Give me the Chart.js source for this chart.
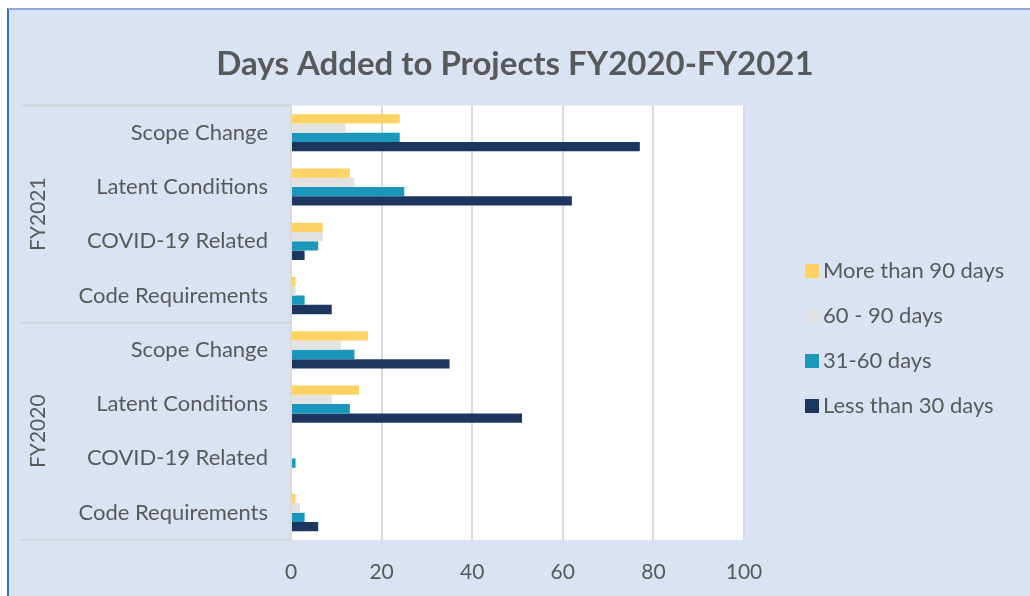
<!DOCTYPE html>
<html>
<head>
<meta charset="utf-8">
<script src="https://cdn.jsdelivr.net/npm/chart.js@4.4.0/dist/chart.umd.min.js"></script>
<style>
  body { margin: 0; background: #ffffff; overflow: hidden; }
  #box {
    position: absolute; left: 7px; top: 8px; width: 1040px; height: 600px;
    background: #dae3f3; border-left: 2px solid #2e75b6; border-top: 2px solid #8faadc;
  }
  #myChart { position: absolute; left: 0; top: 0; }
</style>
</head>
<body>
<div id="box"><canvas id="myChart" width="1012" height="586"></canvas></div>
<script>
// categories, top to bottom
var years = ["FY2021", "FY2020"];
var causes = ["Scope Change", "Latent Conditions", "COVID-19 Related", "Code Requirements"];
var yLabels = causes.concat(causes);

// values: FY2021 then FY2020
var over90 = [24, 13, 7, 1, 17, 15, 0, 1];
var days60to90 = [12, 14, 7, 1, 11, 9, 0, 2];
var days31to60 = [24, 25, 6, 3, 14, 13, 1, 3];
var under30 = [77, 62, 3, 9, 35, 51, 0, 6];

var seriesNames = ["More than 90 days", "60 - 90 days", "31-60 days", "Less than 30 days"];
var barColors = ["#ffd265", "#e2e2e2", "#1b97bc", "#1c365f"];
var xTicks = [0, 20, 40, 60, 80, 100];

var textColor = "#595959";
var fontName = "Lato";

// white plot area, year labels, divider lines and legend
var extras = {
  id: "extras",
  beforeDraw: function(chart) {
    var a = chart.chartArea, ctx = chart.ctx;
    ctx.save();
    ctx.fillStyle = "#ffffff";
    ctx.fillRect(a.left, a.top, a.right - a.left, a.bottom - a.top);
    ctx.restore();
  },
  afterDraw: function(chart) {
    var a = chart.chartArea, ctx = chart.ctx, y = chart.scales.y;
    var n = causes.length;
    ctx.save();
    // dividers
    ctx.strokeStyle = "#d0d4da";
    ctx.lineWidth = 2;
    var mid = (y.getPixelForValue(n - 1) + y.getPixelForValue(n)) / 2;
    [a.top, mid, a.bottom].forEach(function(py) {
      ctx.beginPath();
      ctx.moveTo(11, py);
      ctx.lineTo(a.left, py);
      ctx.stroke();
    });
    // year labels
    ctx.fillStyle = textColor;
    ctx.font = "21px " + fontName;
    ctx.textAlign = "center";
    ctx.textBaseline = "middle";
    years.forEach(function(yr, i) {
      var cy = (y.getPixelForValue(i * n) + y.getPixelForValue(i * n + n - 1)) / 2;
      ctx.save();
      ctx.translate(29, cy);
      ctx.rotate(-Math.PI / 2);
      ctx.fillText(yr, 0, 0);
      ctx.restore();
    });
    // legend
    ctx.textAlign = "left";
    ctx.font = "22px " + fontName;
    chart.data.datasets.forEach(function(ds, i) {
      var ly = 261 + i * 45;
      ctx.fillStyle = ds.backgroundColor;
      ctx.fillRect(796, ly - 7, 14, 14);
      ctx.fillStyle = textColor;
      ctx.fillText(ds.label, 814, ly);
    });
    ctx.restore();
  }
};

new Chart("myChart", {
  type: "bar",
  data: {
    labels: yLabels,
    datasets: [
      { label: seriesNames[0], data: over90, backgroundColor: barColors[0] },
      { label: seriesNames[1], data: days60to90, backgroundColor: barColors[1] },
      { label: seriesNames[2], data: days31to60, backgroundColor: barColors[2] },
      { label: seriesNames[3], data: under30, backgroundColor: barColors[3] }
    ]
  },
  options: {
    responsive: false,
    animation: false,
    indexAxis: "y",
    datasets: {
      bar: { barPercentage: 1, categoryPercentage: 0.685 }
    },
    layout: { padding: { top: 0, right: 0, bottom: -9, left: 0 } },
    plugins: {
      legend: { display: false },
      tooltip: { enabled: false },
      title: {
        display: true,
        text: "Days Added to Projects FY2020-FY2021",
        color: textColor,
        font: { family: fontName, size: 33, weight: "bold" },
        padding: { top: 35, bottom: 21 }
      }
    },
    scales: {
      x: {
        min: 0,
        max: 100,
        afterBuildTicks: function(scale) {
          scale.ticks = xTicks.map(function(v) { return { value: v }; });
        },
        grid: { color: "#d9d9d9", lineWidth: 2, drawTicks: false },
        border: { display: false },
        ticks: { color: textColor, font: { family: fontName, size: 21 }, padding: 20 }
      },
      y: {
        afterFit: function(scale) { scale.width = 282; },
        grid: { display: false, drawTicks: false },
        border: { display: false },
        ticks: { color: textColor, font: { family: fontName, size: 22 }, padding: 23 }
      },
      // empty right axis that keeps room for the legend
      yRight: {
        type: "category",
        position: "right",
        afterFit: function(scale) { scale.width = 277; },
        grid: { display: false, drawTicks: false },
        border: { display: false },
        ticks: { display: false }
      }
    }
  },
  plugins: [extras]
});
</script>
</body>
</html>
